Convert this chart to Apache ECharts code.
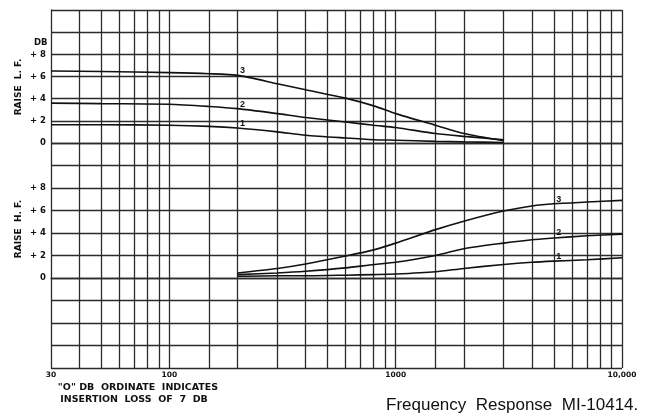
<!DOCTYPE html>
<html>
<head>
<meta charset="utf-8">
<script src="https://cdn.jsdelivr.net/npm/echarts@6/dist/echarts.min.js"></script>
<style>
html,body{margin:0;padding:0;background:#fff;}
#chart{width:649px;height:419px;}
</style>
</head>
<body>
<div id="chart"></div>
<script>
// ---- data ----
const freqLF = [30, 50, 100, 150, 200, 300, 400, 600, 800, 1000, 1500, 2000, 3000];
const lf3 = [6.5, 6.45, 6.35, 6.25, 6.1, 5.35, 4.8, 4.05, 3.35, 2.65, 1.6, 0.85, 0.2];
const lf2 = [3.6, 3.55, 3.5, 3.3, 3.1, 2.65, 2.3, 1.9, 1.6, 1.4, 0.85, 0.6, 0.3];
const lf1 = [1.65, 1.65, 1.6, 1.5, 1.35, 1.0, 0.7, 0.45, 0.3, 0.25, 0.15, 0.1, 0.05];

const freqHF = [200, 300, 400, 600, 800, 1000, 1500, 2000, 3000, 4000, 5000, 7000, 10000];
const hf3 = [0.45, 0.85, 1.25, 1.95, 2.5, 3.1, 4.3, 5.05, 5.95, 6.4, 6.6, 6.75, 6.9];
const hf2 = [0.3, 0.45, 0.6, 0.9, 1.2, 1.4, 2.0, 2.6, 3.1, 3.4, 3.55, 3.75, 3.9];
const hf1 = [0.15, 0.2, 0.2, 0.25, 0.3, 0.35, 0.55, 0.85, 1.2, 1.4, 1.5, 1.62, 1.8];

const gridFreqs = [40, 50, 60, 70, 80, 90, 100, 150, 200, 300, 400, 500, 600, 700, 800, 900,
  1000, 1500, 2000, 3000, 4000, 5000, 6000, 7000, 8000, 9000, 10000];
const xTickLabels = {30: '30', 100: '100', 1000: '1000', 10000: '10,000'};
const curveNames = ['1', '2', '3'];
const lfLabelFreq = 200;
const hfLabelFreq = 5000;

// ---- build ----
const lineCol = '#2b2b2b';
const fontFam = '"Liberation Sans", Arial, sans-serif';
const boldFam = '"DejaVu Sans", "Liberation Sans", sans-serif';

function mkData(freqs, vals, labelFreq, name, dist) {
  return freqs.map((f, i) => {
    const item = {value: [f, vals[i]]};
    if (f === labelFreq) {
      item.label = {show: true, formatter: name, position: 'top', distance: dist, offset: [5, 0],
        color: '#111', fontSize: 9, fontWeight: 'bold', fontFamily: fontFam};
    }
    return item;
  });
}

function curve(idx, freqs, vals, labelFreq, name, dist, withGrid) {
  const s = {
    type: 'line', xAxisIndex: idx, yAxisIndex: idx,
    data: mkData(freqs, vals, labelFreq, name, dist),
    smooth: 0.25, symbol: 'circle', symbolSize: 0, showSymbol: true,
    lineStyle: {color: '#111', width: 1.6}, itemStyle: {color: '#111'},
    silent: true, animation: false, z: 5
  };
  if (withGrid) {
    s.markLine = {
      silent: true, symbol: 'none', animation: false,
      label: {show: false},
      lineStyle: {color: lineCol, width: 1.3, type: 'solid'},
      data: gridFreqs.map(f => ({xAxis: f}))
    };
  }
  return s;
}

const yLabel = v => (v === 0 ? '0' : (v > 0 && v <= 8 ? '+ ' + v : ''));

const chart = echarts.init(document.getElementById('chart'), null, {renderer: 'canvas'});
chart.setOption({
  animation: false,
  backgroundColor: '#fff',
  grid: [
    {left: 51, right: 27, top: 10, height: 133},
    {left: 51, right: 27, top: 143, height: 225}
  ],
  xAxis: [0, 1].map(i => ({
    type: 'log', logBase: 10, min: 30, max: 10000, gridIndex: i,
    axisLine: {show: i === 1, lineStyle: {color: lineCol, width: 1.3}},
    axisTick: {show: false},
    splitLine: {show: false},
    axisLabel: {
      show: i === 1, margin: 3, color: '#111', fontSize: 7.5, fontWeight: 'bold', fontFamily: boldFam,
      formatter: v => xTickLabels[Math.round(v)] || ''
    }
  })),
  yAxis: [
    {type: 'value', gridIndex: 0, min: 0, max: 12, interval: 2},
    {type: 'value', gridIndex: 1, min: -8, max: 12, interval: 2}
  ].map(a => Object.assign(a, {
    axisLine: {show: true, lineStyle: {color: lineCol, width: 1.3}},
    axisTick: {show: false},
    splitLine: {show: true, lineStyle: {color: lineCol, width: 1.3}},
    axisLabel: {margin: 5, color: '#111', fontSize: 8.5, fontWeight: 'bold', fontFamily: boldFam, formatter: yLabel}
  })),
  series: [
    curve(0, freqLF, lf1, lfLabelFreq, curveNames[0], 0, true),
    curve(0, freqLF, lf2, lfLabelFreq, curveNames[1], 0, false),
    curve(0, freqLF, lf3, lfLabelFreq, curveNames[2], 0, false),
    curve(1, freqHF, hf1, hfLabelFreq, curveNames[0], 0, true),
    curve(1, freqHF, hf2, hfLabelFreq, curveNames[1], 1, false),
    curve(1, freqHF, hf3, hfLabelFreq, curveNames[2], 0, false)
  ],
  graphic: [
    {type: 'text', left: 34, top: 38, style: {text: 'DB', fill: '#111', font: 'bold 8.5px ' + boldFam}},
    {type: 'text', x: 19, y: 87, rotation: Math.PI / 2, style: {text: 'RAISE  L. F.', fill: '#111',
      font: 'bold 9px ' + boldFam, align: 'center', verticalAlign: 'middle'}},
    {type: 'text', x: 19, y: 229, rotation: Math.PI / 2, style: {text: 'RAISE  H. F.', fill: '#111',
      font: 'bold 9px ' + boldFam, align: 'center', verticalAlign: 'middle'}},
    {type: 'text', x: 138, y: 388, style: {text: '"O" DB  ORDINATE  INDICATES', fill: '#111',
      font: 'bold 9.5px ' + boldFam, align: 'center', verticalAlign: 'middle'}},
    {type: 'text', x: 134, y: 400, style: {text: 'INSERTION  LOSS  OF  7  DB', fill: '#111',
      font: 'bold 9.5px ' + boldFam, align: 'center', verticalAlign: 'middle'}},
    {type: 'text', x: 386, y: 405, style: {text: 'Frequency  Response  MI-10414.', fill: '#111',
      font: '17px ' + fontFam, align: 'left', verticalAlign: 'middle'}}
  ]
});
</script>
</body>
</html>
